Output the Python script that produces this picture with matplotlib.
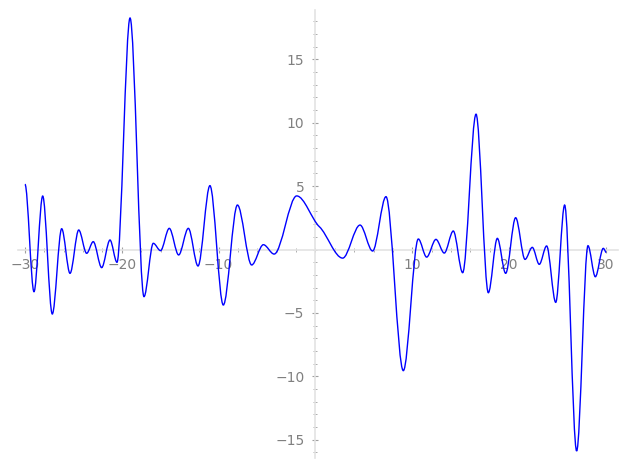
import numpy as np
import matplotlib
matplotlib.use('Agg')
import matplotlib.pyplot as plt
from matplotlib.path import Path
from matplotlib.patches import PathPatch
from matplotlib.ticker import FixedLocator, FuncFormatter

# Curve: turning points (slope 0) plus a few shoulder points
x_pts = [-30.00, -29.07, -28.17, -27.18, -26.21, -25.35, -24.45, -23.63, -22.95, -22.08,
         -21.22, -20.50, -19.15, -17.71, -16.75, -16.00, -15.10, -14.13, -13.13, -12.13,
         -10.90, -9.52, -8.06, -6.59, -5.38, -4.27, -1.94, 0.40, 2.81, 4.60,
         5.90, 7.28, 9.07, 10.62, 11.48, 12.44, 13.30, 14.23, 15.20, 16.58,
         17.85, 18.78, 19.64, 20.67, 21.64, 22.39, 23.11, 23.87, 24.81, 25.73,
         26.97, 28.14, 28.90, 29.72, 30.00]
y_pts = [5.15, -3.33, 4.22, -5.09, 1.64, -1.88, 1.54, -0.30, 0.62, -1.43,
         0.75, -1.01, 18.27, -3.72, 0.49, -0.09, 1.67, -0.43, 1.67, -1.30,
         5.04, -4.38, 3.51, -1.22, 0.38, -0.36, 4.23, 1.80, -0.68, 1.93,
         -0.12, 4.17, -9.56, 0.83, -0.60, 0.80, -0.28, 1.46, -1.83, 10.68,
         -3.41, 0.88, -1.88, 2.51, -0.78, 0.17, -1.17, 0.28, -4.17, 3.51,
         -15.90, 0.30, -2.15, 0.09, -0.25]
slopes = [0.0] * len(x_pts)
slopes[27] = -0.7   # shoulder just right of the origin
slopes[-1] = -1.5   # curve is falling at the right end

x_major = [-30, -20, -10, 10, 20, 30]
y_major = [-15, -10, -5, 5, 10, 15]

fig = plt.figure(figsize=(6.27, 4.7), dpi=100)
ax = fig.add_axes([0, 0, 1, 1])
ax.set_xlim(-32.58, 32.17)
ax.set_ylim(-17.40, 19.69)

# smooth curve through the read points (cubic segments)
verts = [(x_pts[0], y_pts[0])]
codes = [Path.MOVETO]
for i in range(len(x_pts) - 1):
    dx = x_pts[i + 1] - x_pts[i]
    verts.append((x_pts[i] + dx / 3, y_pts[i] + slopes[i] * dx / 3))
    verts.append((x_pts[i + 1] - dx / 3, y_pts[i + 1] - slopes[i + 1] * dx / 3))
    verts.append((x_pts[i + 1], y_pts[i + 1]))
    codes += [Path.CURVE4] * 3
ax.add_patch(PathPatch(Path(verts, codes), fill=False, edgecolor='blue', lw=1.0, zorder=3))

# axes through the origin, sage style
for side in ['top', 'right']:
    ax.spines[side].set_visible(False)
ax.spines['left'].set_position(('data', 0))
ax.spines['bottom'].set_position(('data', 0))
ax.spines['bottom'].set_bounds(-30.72, 31.24)
ax.spines['left'].set_bounds(-16.46, 18.9)
for side in ['left', 'bottom']:
    ax.spines[side].set_color('#e3e3e3')
    ax.spines[side].set_linewidth(1.2)
ax.patch.set_visible(False)

ax.xaxis.set_major_locator(FixedLocator(x_major))
ax.yaxis.set_major_locator(FixedLocator(y_major))
ax.xaxis.set_minor_locator(FixedLocator(np.arange(-30, 31, 2)))
ax.yaxis.set_minor_locator(FixedLocator(np.arange(-16, 19, 1)))

fmt = FuncFormatter(lambda v, p: ('%d' % v).replace('-', '\u2212'))
ax.xaxis.set_major_formatter(fmt)
ax.yaxis.set_major_formatter(fmt)

ax.tick_params(which='major', direction='inout', length=4, width=0.8,
               color='#a0a0a0', labelcolor='#808080', labelsize=10)
ax.tick_params(which='minor', direction='inout', length=3, width=0.6, color='#a0a0a0')
ax.tick_params(axis='x', which='major', pad=4)
ax.tick_params(axis='y', which='major', pad=6)

plt.savefig('out.png', dpi=100)
